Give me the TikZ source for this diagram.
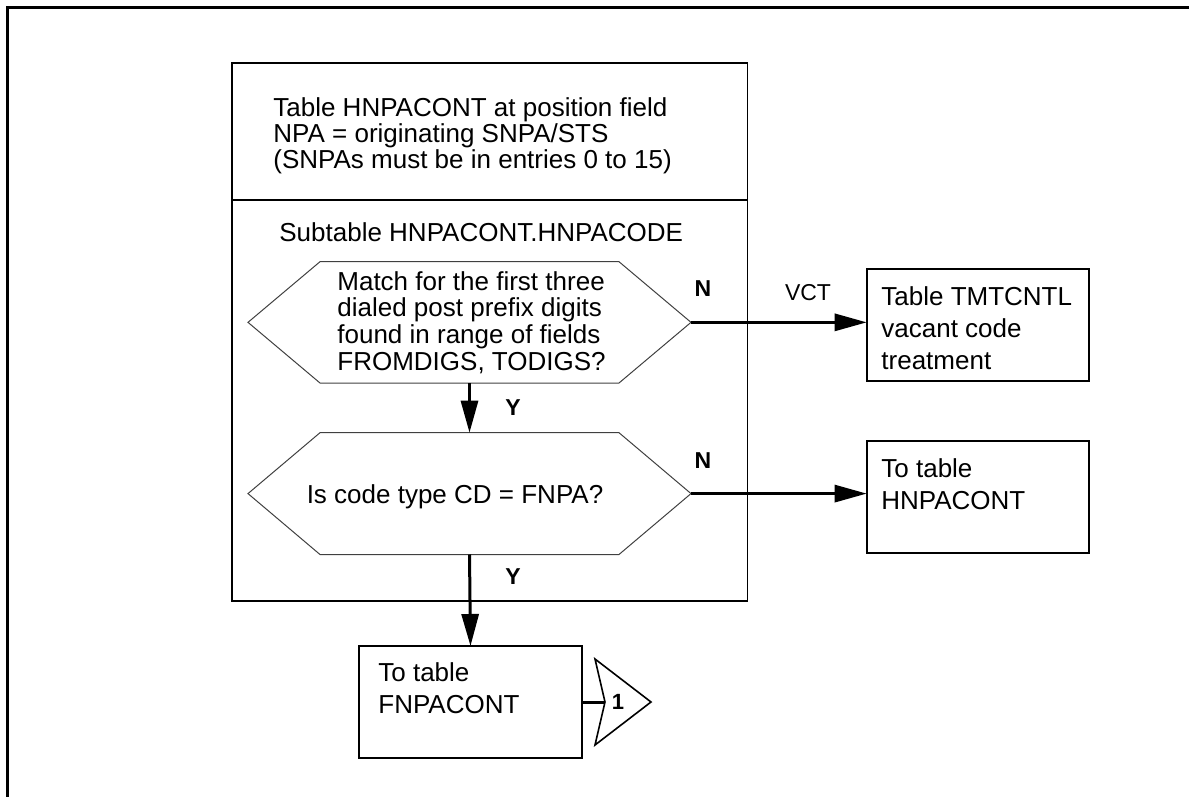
\documentclass[tikz,border=0pt]{standalone}
\usepackage{fontspec}
\setmainfont{Liberation Sans}
\usetikzlibrary{arrows.meta}
\begin{document}
\begin{tikzpicture}[x=0.5pt,y=-0.5pt,
  txt/.style={inner sep=0pt, anchor=base west, font=\fontsize{13pt}{15pt}\selectfont},
  lbl/.style={inner sep=0pt, font=\fontsize{11.5pt}{13pt}\selectfont\bfseries},
  plainlbl/.style={inner sep=0pt, font=\fontsize{11.5pt}{13pt}\selectfont},
  boxn/.style={draw, line width=0.85pt, inner sep=0pt, outer sep=0pt, anchor=north west},
  hexn/.style={inner sep=0pt, outer sep=0pt, minimum width=221.5pt},
  hexline/.style={draw=black!75, line width=0.5pt},
  conn/.style={line width=1.5pt, -{Triangle[length=16pt,width=8.5pt]}},
  plainconn/.style={line width=1.5pt}
]
\useasboundingbox (0,0) rectangle (1189,797);
% outer frame (only top and left edges visible)
\draw[line width=1.15pt] (7.5,797) -- (7.5,7.5) -- (1189,7.5);

% main box
\node[boxn, minimum width=257.6pt, minimum height=268.85pt] (main) at (232.3,63.3) {};
\coordinate (divL) at (232.3,200);
\coordinate (divR) at (747.5,200);
\draw[line width=0.85pt] (divL) -- (divR);

\node[txt] (m1) at (273,117) {Table HNPACONT at position field};
\node[txt] (m2) at (273,143) {NPA = originating SNPA/STS};
\node[txt] (m3) at (273,169) {(SNPAs must be in entries 0 to 15)};
\node[txt] (sub) at (279,241.5) {Subtable HNPACONT.HNPACODE};

% hexagon 1
\node[hexn, minimum height=60.65pt] (h1) at (469.5,322.35) {};
\draw[hexline] (h1.west) -- ([xshift=36pt]h1.north west) -- ([xshift=-36pt]h1.north east)
  -- (h1.east) -- ([xshift=-36pt]h1.south east) -- ([xshift=36pt]h1.south west) -- cycle;
\node[txt] (q1a) at (337,290) {Match for the first three};
\node[txt] (q1b) at (337,316.5) {dialed post prefix digits};
\node[txt] (q1c) at (337,343.5) {found in range of fields};
\node[txt] (q1d) at (337,370.5) {FROMDIGS, TODIGS?};

% hexagon 2
\node[hexn, minimum height=60.9pt] (h2) at (469.5,493.6) {};
\draw[hexline] (h2.west) -- ([xshift=36pt]h2.north west) -- ([xshift=-36pt]h2.north east)
  -- (h2.east) -- ([xshift=-36pt]h2.south east) -- ([xshift=36pt]h2.south west) -- cycle;
\node[txt, anchor=base] (q2) at (455,503.5) {Is code type CD = FNPA?};

% right boxes
\node[boxn, minimum width=111.15pt, minimum height=55.85pt] (tb) at (866.7,269.3) {};
\node[txt] (tb1) at (881,305) {Table TMTCNTL};
\node[txt] (tb2) at (881,337) {vacant code};
\node[txt] (tb3) at (881,369) {treatment};

\node[boxn, minimum width=111.15pt, minimum height=56pt] (hb) at (866.7,441) {};
\node[txt] (hb1) at (881,477) {To table};
\node[txt] (hb2) at (881,509) {HNPACONT};

% bottom box
\node[boxn, minimum width=111.5pt, minimum height=56pt] (fb) at (359,646) {};
\node[txt] (fb1) at (378,681) {To table};
\node[txt] (fb2) at (378,713) {FNPACONT};

% off-page connector
\coordinate (opTop) at (595,659);
\coordinate (opTip) at (651,702);
\coordinate (opBot) at (595,745);
\coordinate (opNotch) at (605,702);
\draw[line width=0.8pt, line join=miter] (opTop) -- (opTip) -- (opBot) -- (opNotch) -- cycle;
\node[lbl, font=\fontsize{11pt}{13pt}\selectfont\bfseries] (one) at (618,702) {1};
\draw[plainconn] (fb.east) -- (opNotch);

% connectors
\draw[conn] (h1.south) -- (h2.north);
\draw[conn] (h2.south) -- (fb.north);
\draw[conn] (h1.east) -- (tb.west |- h1.east);
\draw[conn] (h2.east) -- (hb.west |- h2.east);

% labels
\node[lbl] (n1) at (703,289) {N};
\node[lbl] (n2) at (703,461) {N};
\node[lbl] (y1) at (513,408) {Y};
\node[lbl] (y2) at (513,577) {Y};
\node[plainlbl] (vct) at (808,293) {VCT};
\end{tikzpicture}
\end{document}
